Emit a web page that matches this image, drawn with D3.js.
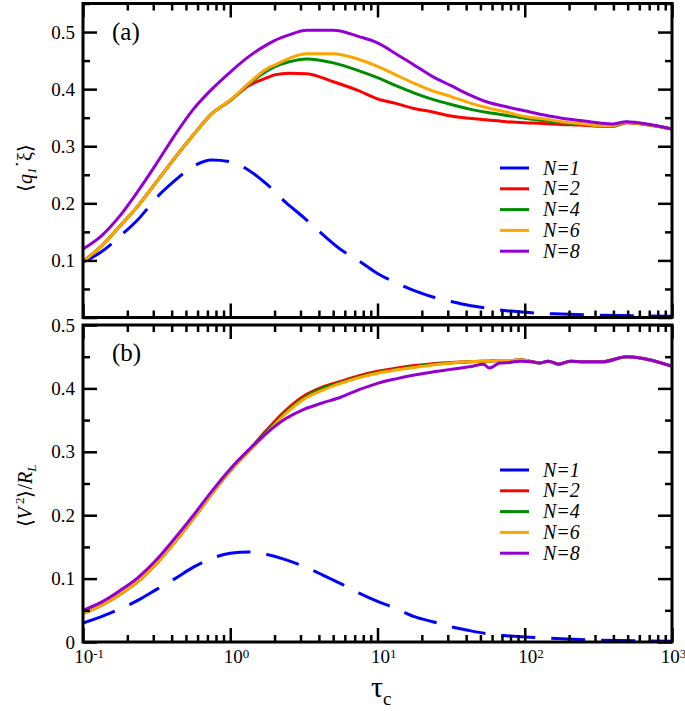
<!DOCTYPE html>
<html><head><meta charset="utf-8">
<script src="https://cdn.jsdelivr.net/npm/d3@7"></script>
</head><body style="margin:0">
<svg id="c" width="685" height="711" font-family="Liberation Serif"></svg>
<script>
// ---------- data ----------
const seriesNames  = ["N=1", "N=2", "N=4", "N=6", "N=8"];
const seriesColors = ["#0000ff", "#ff0000", "#008c00", "#ffa500", "#9400d3"];

// panel (a): <q1 xi>, x given as log10(tau_c)
const aLogTau_N1 = [-1,-0.875,-0.75,-0.625,-0.5,-0.375,-0.25,-0.125,0,0.125,0.25,0.375,0.5,0.625,0.75,0.875,1,1.125,1.25,1.375,1.5,1.625,1.75,1.875,2,2.25,2.5,2.75,3];
const aVal_N1      = [0.097,0.115,0.142,0.172,0.21,0.24,0.265,0.276,0.273,0.258,0.233,0.202,0.175,0.146,0.119,0.099,0.077,0.061,0.047,0.036,0.028,0.021,0.016,0.012,0.009,0.006,0.004,0.003,0.002];

const aLogTau = [-1,-0.875,-0.75,-0.625,-0.5,-0.375,-0.25,-0.125,0,0.125,0.25,0.3,0.4,0.52,0.7,0.875,1,1.125,1.25,1.375,1.5,1.625,1.75,1.875,2,2.125,2.25,2.375,2.5,2.6,2.69,2.85,3];
const aVal_N2 = [0.098,0.125,0.16,0.196,0.238,0.28,0.32,0.357,0.38,0.406,0.42,0.425,0.428,0.427,0.413,0.397,0.383,0.375,0.366,0.36,0.353,0.349,0.346,0.343,0.341,0.34,0.338,0.337,0.335,0.335,0.341,0.337,0.33];
const aVal_N4 = [0.098,0.125,0.16,0.196,0.238,0.28,0.32,0.357,0.38,0.409,0.432,0.439,0.448,0.453,0.446,0.432,0.42,0.406,0.393,0.382,0.373,0.365,0.359,0.354,0.349,0.345,0.341,0.339,0.336,0.335,0.342,0.337,0.33];
const aVal_N6 = [0.098,0.125,0.16,0.196,0.238,0.28,0.32,0.357,0.381,0.41,0.436,0.442,0.454,0.462,0.462,0.452,0.44,0.425,0.41,0.397,0.387,0.376,0.367,0.36,0.352,0.348,0.343,0.34,0.336,0.336,0.342,0.337,0.33];
const aVal_N8 = [0.12,0.143,0.178,0.222,0.27,0.32,0.365,0.40,0.43,0.457,0.478,0.485,0.495,0.503,0.503,0.492,0.481,0.462,0.442,0.422,0.406,0.39,0.377,0.369,0.362,0.355,0.349,0.345,0.341,0.339,0.343,0.338,0.33];

// panel (b): <V^2>/R_L
const bLogTau_N1 = [-1,-0.875,-0.75,-0.625,-0.5,-0.375,-0.25,-0.125,0,0.125,0.25,0.375,0.5,0.625,0.75,0.875,1,1.125,1.25,1.375,1.5,1.625,1.75,1.875,2,2.25,2.5,2.75,3];
const bVal_N1      = [0.03,0.04,0.052,0.066,0.083,0.1,0.118,0.132,0.14,0.142,0.138,0.13,0.119,0.106,0.092,0.077,0.064,0.053,0.04,0.032,0.024,0.018,0.013,0.01,0.008,0.005,0.003,0.002,0.001];

const bLogTau = [-1,-0.875,-0.75,-0.625,-0.5,-0.375,-0.25,-0.125,0,0.125,0.25,0.375,0.5,0.625,0.75,0.875,1,1.125,1.25,1.375,1.5,1.625,1.72,1.76,1.83,1.9,1.97,2.05,2.1,2.16,2.23,2.31,2.4,2.53,2.69,3];
const bVal_N2 = [0.045,0.058,0.075,0.096,0.124,0.158,0.195,0.234,0.27,0.302,0.335,0.365,0.388,0.402,0.411,0.42,0.427,0.432,0.436,0.439,0.441,0.442,0.443,0.443,0.444,0.444,0.445,0.442,0.44,0.443,0.438,0.443,0.442,0.442,0.45,0.435];
const bVal_N4 = [0.045,0.058,0.075,0.096,0.124,0.158,0.195,0.234,0.27,0.301,0.332,0.362,0.385,0.4,0.409,0.418,0.425,0.43,0.434,0.438,0.44,0.442,0.443,0.443,0.444,0.444,0.445,0.442,0.44,0.443,0.438,0.443,0.442,0.442,0.45,0.435];
const bVal_N6 = [0.045,0.058,0.075,0.096,0.124,0.158,0.195,0.234,0.27,0.3,0.33,0.36,0.383,0.397,0.408,0.417,0.424,0.429,0.433,0.437,0.44,0.442,0.443,0.443,0.444,0.444,0.445,0.442,0.44,0.443,0.438,0.443,0.442,0.442,0.45,0.435];
const bVal_N8 = [0.05,0.063,0.081,0.102,0.13,0.164,0.2,0.238,0.273,0.303,0.33,0.352,0.367,0.377,0.386,0.398,0.408,0.415,0.421,0.426,0.43,0.434,0.438,0.432,0.44,0.441,0.443,0.442,0.44,0.443,0.438,0.443,0.442,0.442,0.45,0.435];

const xTicksMajor = [0.1, 1, 10, 100, 1000];
const yTicksA = [0.1, 0.2, 0.3, 0.4, 0.5];
const yTicksB = [0, 0.1, 0.2, 0.3, 0.4, 0.5];

const panelA = {
  label: "(a)", domain: [0, 0.55], ticks: yTicksA,
  series: [
    [aLogTau_N1, aVal_N1], [aLogTau, aVal_N2], [aLogTau, aVal_N4], [aLogTau, aVal_N6], [aLogTau, aVal_N8]
  ]
};
const panelB = {
  label: "(b)", domain: [0, 0.5], ticks: yTicksB,
  series: [
    [bLogTau_N1, bVal_N1], [bLogTau, bVal_N2], [bLogTau, bVal_N4], [bLogTau, bVal_N6], [bLogTau, bVal_N8]
  ]
};

// ---------- drawing ----------
const svg = d3.select("#c");
const L = 83, R = 672;
const x = d3.scaleLog().domain([0.1, 1000]).range([L, R]);
function serif(sel) { return sel.attr("font-family", "Liberation Serif").style("font-family", '"Liberation Serif"'); }

const minorX = [];
for (let e = -1; e < 3; e++) for (let k = 2; k <= 9; k++) minorX.push(k * Math.pow(10, e));

function drawPanel(p, top, bottom, showX, legendTop) {
  const y = d3.scaleLinear().domain(p.domain).range([bottom, top]);
  const g = svg.append("g");
  const clipId = "clip" + Math.round(top);
  svg.append("clipPath").attr("id", clipId).append("rect")
    .attr("x", L).attr("y", top).attr("width", R - L).attr("height", bottom - top);

  const minorY = d3.range(0, p.domain[1] + 1e-9, 0.05).map(v => +v.toFixed(2)).filter(v => Math.abs(v*10 - Math.round(v*10)) > 1e-6);
  const majorY = d3.range(0, p.domain[1] + 1e-9, 0.1).map(v => +v.toFixed(2));

  const line = d3.line().curve(d3.curveMonotoneX).x(d => x(Math.pow(10, d[0]))).y(d => y(d[1]));
  const lg = g.append("g").attr("clip-path", `url(#${clipId})`);
  p.series.forEach((s, i) => {
    const pts = s[0].map((t, j) => [t, s[1][j]]);
    lg.append("path").datum(pts).attr("d", line)
      .attr("fill", "none").attr("stroke", seriesColors[i])
      .attr("stroke-width", 3).attr("stroke-linejoin", "round")
      .attr("stroke-dasharray", i === 0 ? "34,16" : null);
  });

  const tickStyle = a => a.call(s => s.select(".domain").remove())
    .call(s => s.selectAll(".tick line").attr("stroke", "#000").attr("stroke-width", 2.5));

  const xb = g.append("g").attr("transform", `translate(0,${bottom})`)
    .call(d3.axisBottom(x).tickValues(xTicksMajor).tickSize(-14).tickPadding(8)
      .tickFormat(d => showX ? "10" : ""));
  tickStyle(xb);
  serif(xb).attr("font-size", 19);
  serif(xb.selectAll(".tick text")).attr("font-size", 19).attr("fill", "#000");
  if (showX) {
    xb.selectAll(".tick text").each(function (d, i) {
      const t = d3.select(this); t.text(null);
      t.append("tspan").text("10");
      t.append("tspan").attr("dy", "-0.45em").attr("font-size", 13).text(String(Math.round(Math.log10(d))));
      t.attr("dx", i === 4 ? "0.05em" : "0.3em");
    });
  }
  tickStyle(g.append("g").attr("transform", `translate(0,${bottom})`)
    .call(d3.axisBottom(x).tickValues(minorX).tickSize(-7).tickFormat("")));
  tickStyle(g.append("g").attr("transform", `translate(0,${top})`)
    .call(d3.axisTop(x).tickValues(xTicksMajor).tickSize(-14).tickFormat("")));
  tickStyle(g.append("g").attr("transform", `translate(0,${top})`)
    .call(d3.axisTop(x).tickValues(minorX).tickSize(-7).tickFormat("")));

  const yl = g.append("g").attr("transform", `translate(${L},0)`)
    .call(d3.axisLeft(y).tickValues(majorY).tickSize(-14).tickPadding(8)
      .tickFormat(d => p.ticks.some(t => Math.abs(t - d) < 1e-9) ? (d === 0 ? "0" : d3.format(".1f")(d)) : ""));
  tickStyle(yl);
  serif(yl).attr("font-size", 19);
  serif(yl.selectAll(".tick text")).attr("font-size", 19).attr("fill", "#000");
  tickStyle(g.append("g").attr("transform", `translate(${L},0)`)
    .call(d3.axisLeft(y).tickValues(minorY).tickSize(-7).tickFormat("")));
  tickStyle(g.append("g").attr("transform", `translate(${R},0)`)
    .call(d3.axisRight(y).tickValues(majorY).tickSize(-14).tickFormat("")));
  tickStyle(g.append("g").attr("transform", `translate(${R},0)`)
    .call(d3.axisRight(y).tickValues(minorY).tickSize(-7).tickFormat("")));

  g.append("rect").attr("x", L).attr("y", top).attr("width", R - L).attr("height", bottom - top)
    .attr("fill", "none").attr("stroke", "#000").attr("stroke-width", 3);

  serif(g.append("text")).attr("x", 112).attr("y", top + 36)
    .attr("font-size", 25).text(p.label);

  const leg = g.append("g");
  seriesNames.forEach((n, i) => {
    const ly = legendTop + i * 20.8;
    leg.append("line").attr("x1", 500).attr("x2", 529).attr("y1", ly).attr("y2", ly)
      .attr("stroke", seriesColors[i]).attr("stroke-width", 3);
    serif(leg.append("text")).attr("x", 543).attr("y", ly + 6.5)
      .attr("font-style", "italic").attr("font-size", 20).text(n);
  });
  return y;
}

drawPanel(panelA, 3.5, 317.5, false, 168);
drawPanel(panelB, 325, 642, true, 470);

const ta = serif(svg.append("text")).attr("transform", "translate(32,168) rotate(-90)")
  .attr("text-anchor", "middle").attr("font-size", 20);
ta.append("tspan").text("\u27E8");
ta.append("tspan").attr("font-style", "italic").text("q");
ta.append("tspan").attr("font-style", "italic").attr("font-size", 13).attr("dy", 4).text("1");
ta.append("tspan").attr("dy", -6).text("\u02D9");
ta.append("tspan").attr("dy", 2).text("\u03BE");
ta.append("tspan").text("\u27E9");

const tb = serif(svg.append("text")).attr("transform", "translate(32,496) rotate(-90)")
  .attr("text-anchor", "middle").attr("font-size", 20);
tb.append("tspan").text("\u27E8");
tb.append("tspan").attr("font-style", "italic").text("V");
tb.append("tspan").attr("font-size", 13).attr("dy", -8).text(" 2");
tb.append("tspan").attr("dy", 8).text("\u27E9/");
tb.append("tspan").attr("font-style", "italic").text("R");
tb.append("tspan").attr("font-style", "italic").attr("font-size", 13).attr("dy", 4).text("L");

const tx = serif(svg.append("text")).attr("x", 371).attr("y", 697).attr("font-size", 30);
tx.append("tspan").text("\u03C4");
tx.append("tspan").attr("font-size", 19).attr("dy", 8).text("c");
</script>
</body></html>
